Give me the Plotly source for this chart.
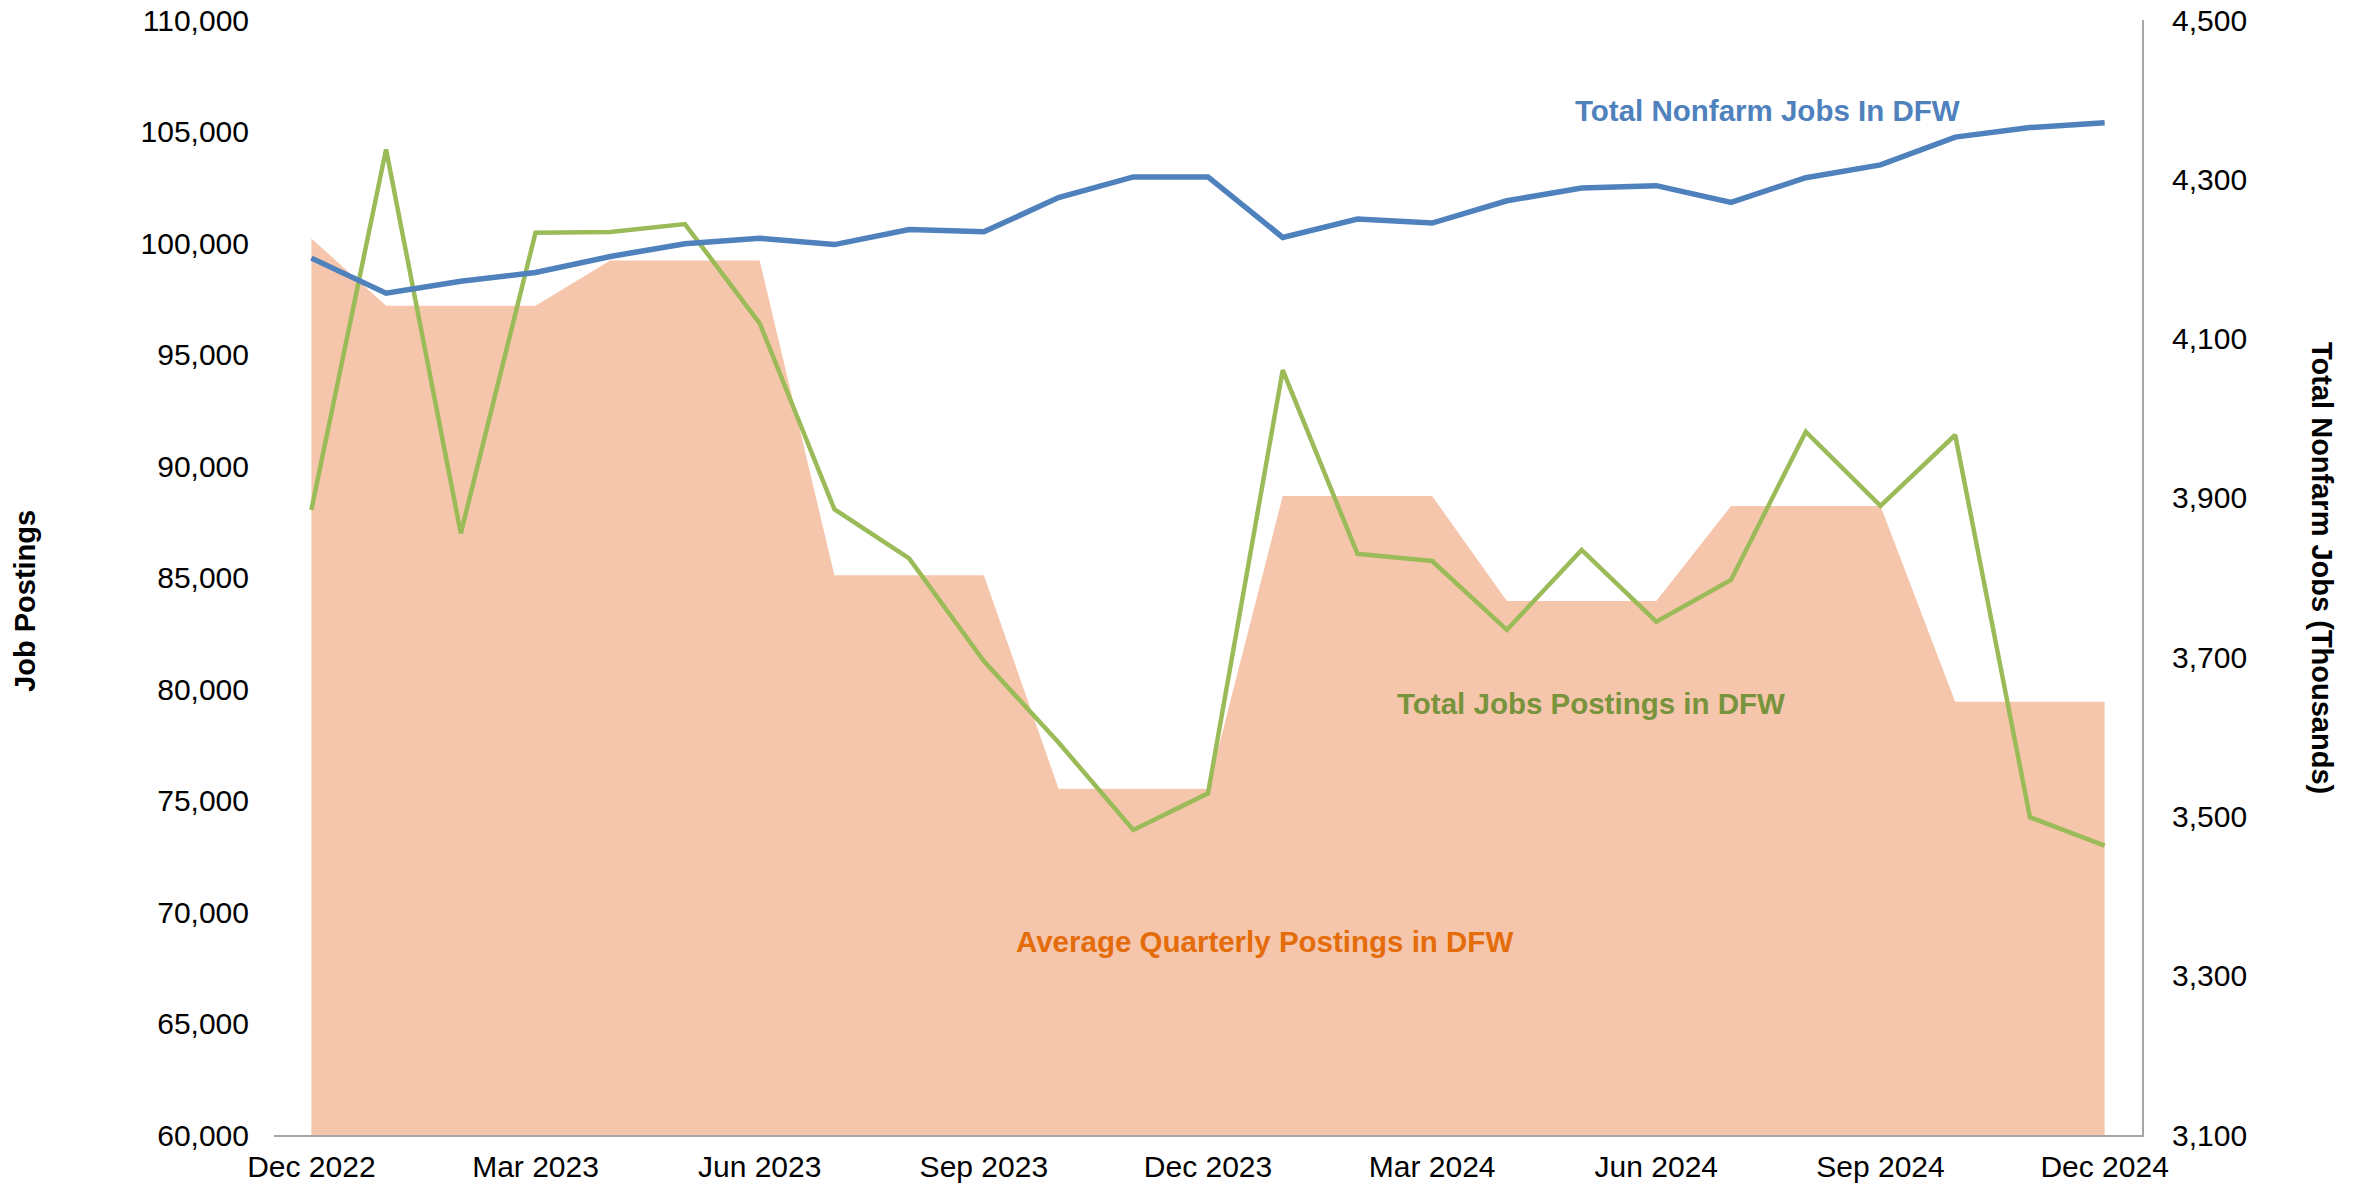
"""DFW job postings vs. total nonfarm jobs, Dec 2022 - Dec 2024."""
import plotly.graph_objects as go

FONT = "Liberation Sans, Arial, sans-serif"

months = [
    "Dec 2022", "Jan 2023", "Feb 2023", "Mar 2023", "Apr 2023", "May 2023",
    "Jun 2023", "Jul 2023", "Aug 2023", "Sep 2023", "Oct 2023", "Nov 2023",
    "Dec 2023", "Jan 2024", "Feb 2024", "Mar 2024", "Apr 2024", "May 2024",
    "Jun 2024", "Jul 2024", "Aug 2024", "Sep 2024", "Oct 2024", "Nov 2024",
    "Dec 2024",
]
tick_months = months[::3]

# monthly job postings (left axis)
job_postings = [
    88030, 104200, 86980, 100460, 100490, 100850,
    96400, 88060, 85860, 81250, 77600, 73680,
    75320, 94300, 86060, 85740, 82650, 86240,
    83020, 84890, 91540, 88210, 91390, 74250,
    72980,
]

# quarterly average postings, repeated for each month of the quarter
avg_quarterly_postings = [
    100200,
    97190, 97190, 97190,
    99220, 99220, 99220,
    85100, 85100, 85100,
    75530, 75530, 75530,
    88650, 88650, 88650,
    83950, 83950, 83950,
    88210, 88210, 88210,
    79430, 79430, 79430,
]

# total nonfarm jobs in thousands (right axis)
nonfarm_jobs = [
    4201, 4157, 4172, 4183, 4203, 4219,
    4226, 4218, 4237, 4234, 4277, 4303,
    4303, 4227, 4250, 4245, 4273, 4289,
    4292, 4271, 4302, 4318, 4353, 4365,
    4371,
]

right_ticks = [3100, 3300, 3500, 3700, 3900, 4100, 4300, 4500]

fig = go.Figure()

fig.add_trace(
    go.Scatter(
        x=months,
        y=avg_quarterly_postings,
        name="Average Quarterly Postings in DFW",
        mode="lines",
        line={"width": 0, "color": "#F5C6AB"},
        fill="tozeroy",
        fillcolor="#F5C6AB",
    )
)
fig.add_trace(
    go.Scatter(
        x=months,
        y=job_postings,
        name="Total Jobs Postings in DFW",
        mode="lines",
        line={"color": "#9BBB59", "width": 4.5},
    )
)
fig.add_trace(
    go.Scatter(
        x=months,
        y=nonfarm_jobs,
        name="Total Nonfarm Jobs In DFW",
        mode="lines",
        line={"color": "#4F81BD", "width": 5.5},
        yaxis="y2",
    )
)

label_font = {"family": FONT, "size": 29.5}
title_font = {"family": FONT, "size": 29, "color": "#000000"}
annotations = [
    dict(text="<b>Total Nonfarm Jobs In DFW</b>", x=19.49, y=105960,
         xref="x", yref="y", showarrow=False,
         font={**label_font, "color": "#4F81BD"}),
    dict(text="<b>Total Jobs Postings in DFW</b>", x=17.12, y=79370,
         xref="x", yref="y", showarrow=False,
         font={**label_font, "color": "#77933C"}),
    dict(text="<b>Average Quarterly Postings in DFW</b>", x=12.76, y=68660,
         xref="x", yref="y", showarrow=False,
         font={**label_font, "color": "#E46C0A"}),
    # axis titles
    dict(text="<b>Job Postings</b>", x=0, y=0.479, xref="paper", yref="paper",
         xanchor="center", yanchor="middle", xshift=-249, textangle=-90,
         showarrow=False, font=title_font),
    dict(text="<b>Total Nonfarm Jobs (Thousands)</b>", x=1, y=0.5085,
         xref="paper", yref="paper", xanchor="center", yanchor="middle",
         xshift=180, textangle=90, showarrow=False, font=title_font),
]

fig.update_layout(
    width=2356,
    height=1192,
    margin=dict(l=274, r=214, t=20, b=57, autoexpand=False),
    paper_bgcolor="white",
    plot_bgcolor="white",
    showlegend=False,
    font={"family": FONT, "size": 30, "color": "#000000"},
    annotations=annotations,
    xaxis=dict(
        type="category",
        range=[-0.5, 24.5],
        tickvals=tick_months,
        ticktext=tick_months,
        showgrid=False,
        showline=True,
        linecolor="#A6A6A6",
        linewidth=2,
        ticks="",
        zeroline=False,
        automargin=False,
        ticklabelstandoff=4,
        ticklabeloverflow="allow",
    ),
    yaxis=dict(
        range=[60000, 110000],
        dtick=5000,
        tickformat=",d",
        showgrid=False,
        showline=False,
        zeroline=False,
        ticks="",
        automargin=False,
        ticklabelstandoff=24,
        ticklabeloverflow="allow",
    ),
    yaxis2=dict(
        overlaying="y",
        side="right",
        range=[3100, 4500],
        tickvals=right_ticks,
        tickformat=",d",
        showgrid=False,
        showline=True,
        linecolor="#A6A6A6",
        linewidth=2,
        zeroline=False,
        ticks="",
        automargin=False,
        ticklabelstandoff=22,
        ticklabeloverflow="allow",
    ),
)

# drop the default 8px body margin so the figure sits at the page origin
fig.write_html(
    "out.html",
    config={"displayModeBar": False},
    post_script="document.body.style.margin = '0';",
)
